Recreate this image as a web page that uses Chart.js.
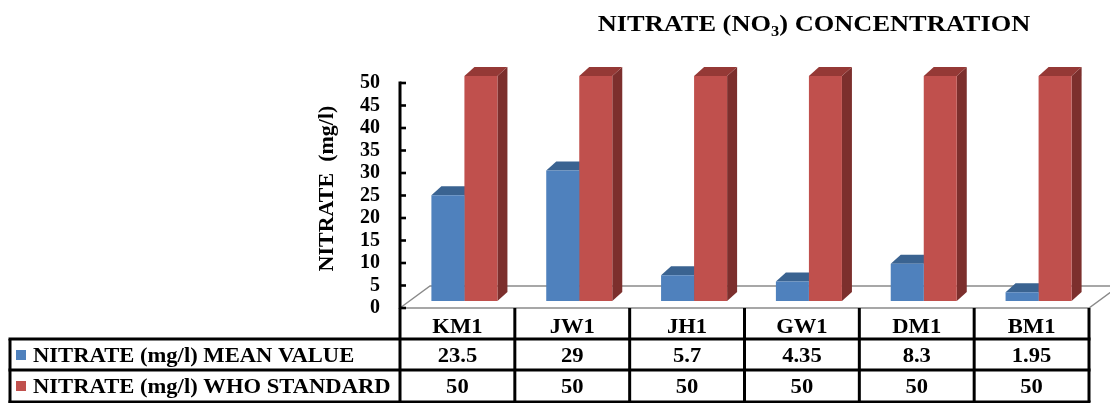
<!DOCTYPE html>
<html>
<head>
<meta charset="utf-8">
<script src="https://cdn.jsdelivr.net/npm/chart.js@4.4.1/dist/chart.umd.min.js"></script>
<style>
  html, body { margin: 0; padding: 0; background: #ffffff; }
  #wrap { width: 1110px; height: 403px; position: relative; }
</style>
</head>
<body>
<div id="wrap"><canvas id="chart" width="1110" height="403"></canvas></div>
<script>
// Sampling sites and nitrate readings (mg/l)
const sites = ['KM1', 'JW1', 'JH1', 'GW1', 'DM1', 'BM1'];
const meanValues = [23.5, 29, 5.7, 4.35, 8.3, 1.95];
const whoStandard = [50, 50, 50, 50, 50, 50];
const seriesNames = ['NITRATE (mg/l) MEAN VALUE', 'NITRATE (mg/l) WHO STANDARD'];
const yMin = 0;
const yMax = 50;
const yStep = 5;

const SERIF = "'Liberation Serif', 'Times New Roman', serif";
const INK = '#000000';

// Face colours for the pseudo-3D columns
const faces = [
  { front: '#4F81BD', top: '#3A6391', side: '#2E4F75' },
  { front: '#C0504D', top: '#953936', side: '#7C2F2D' }
];

// Offsets of the front plane (axis / floor edge) relative to the column plane
const FRONT_DX = -7, FRONT_DY = 7;
// Depth of the floor
const FLOOR_DX = 30, FLOOR_DY = -22;
// Depth of each column
const BAR_DX = 10, BAR_DY = -9;
// Table layout
const TABLE_LEFT = 10;
const ROW_H = 31;
const TABLE_FONT = 20;
const TEXT_SX = 1.13;

function poly(ctx, pts, fill) {
  ctx.beginPath();
  ctx.moveTo(pts[0][0], pts[0][1]);
  for (let i = 1; i < pts.length; i++) ctx.lineTo(pts[i][0], pts[i][1]);
  ctx.closePath();
  ctx.fillStyle = fill;
  ctx.fill();
}

function line(ctx, x1, y1, x2, y2, w, c) {
  ctx.beginPath();
  ctx.moveTo(x1, y1);
  ctx.lineTo(x2, y2);
  ctx.lineWidth = w;
  ctx.strokeStyle = c;
  ctx.stroke();
}

// Bold serif text, slightly widened
function text(ctx, str, x, y, size, align, sx) {
  ctx.save();
  ctx.font = 'bold ' + size + 'px ' + SERIF;
  ctx.fillStyle = INK;
  ctx.textBaseline = 'alphabetic';
  const w = ctx.measureText(str).width * sx;
  let start = x;
  if (align === 'center') start = x - w / 2;
  else if (align === 'right') start = x - w;
  ctx.translate(start, y);
  ctx.scale(sx, 1);
  ctx.textAlign = 'left';
  ctx.fillText(str, 0, 0);
  ctx.restore();
  return w;
}

const pseudo3d = {
  id: 'pseudo3d',
  beforeDatasetsDraw(chart) {
    const ctx = chart.ctx;
    const { left, right } = chart.chartArea;
    const y0 = chart.scales.y.getPixelForValue(0);
    const fl = left + FRONT_DX, fr = right + FRONT_DX, fy = y0 + FRONT_DY;
    // floor
    ctx.save();
    ctx.beginPath();
    ctx.moveTo(fl, fy);
    ctx.lineTo(fr, fy);
    ctx.lineTo(fr + FLOOR_DX, fy + FLOOR_DY);
    ctx.lineTo(fl + FLOOR_DX, fy + FLOOR_DY);
    ctx.closePath();
    ctx.fillStyle = '#ffffff';
    ctx.fill();
    ctx.lineWidth = 1.4;
    ctx.strokeStyle = '#8a8a8a';
    ctx.stroke();
    // tops and sides of the columns
    chart.data.datasets.forEach((ds, di) => {
      const meta = chart.getDatasetMeta(di);
      meta.data.forEach((bar) => {
        const p = bar.getProps(['x', 'y', 'base', 'width'], true);
        const l = p.x - p.width / 2, r = p.x + p.width / 2;
        poly(ctx, [[r, p.y], [r + BAR_DX, p.y + BAR_DY], [r + BAR_DX, p.base + BAR_DY], [r, p.base]], faces[di].side);
        poly(ctx, [[l, p.y], [l + BAR_DX, p.y + BAR_DY], [r + BAR_DX, p.y + BAR_DY], [r, p.y]], faces[di].top);
      });
    });
    ctx.restore();
  },
  afterDraw(chart) {
    const ctx = chart.ctx;
    const ys = chart.scales.y, xs = chart.scales.x;
    const { left, right } = chart.chartArea;
    const fl = left + FRONT_DX, fr = right + FRONT_DX;
    const fy = ys.getPixelForValue(0) + FRONT_DY;
    const topY = ys.getPixelForValue(yMax) + FRONT_DY;
    const catW = (right - left) / sites.length;
    const r1 = fy + ROW_H, r2 = r1 + ROW_H, r3 = r2 + ROW_H + 1;
    ctx.save();
    ctx.lineCap = 'butt';
    // value axis and its tick marks
    line(ctx, fl, topY - 1.5, fl, r3, 3, INK);
    ys.ticks.forEach((t) => {
      const ty = ys.getPixelForValue(t.value) + FRONT_DY;
      line(ctx, fl, ty, fl + 6, ty, 2.6, INK);
    });
    // data table grid
    for (let i = 1; i <= sites.length; i++) {
      const bx = fl + i * catW;
      line(ctx, bx, fy, bx, r3, 3, INK);
    }
    line(ctx, TABLE_LEFT, r1, TABLE_LEFT, r3 + 1.5, 3, INK);
    [r1, r2, r3].forEach((ry) => line(ctx, TABLE_LEFT - 1.5, ry, fr + 1.5, ry, 3, INK));
    // category names and values
    sites.forEach((s, i) => {
      const cx = xs.getPixelForValue(i) + FRONT_DX;
      text(ctx, s, cx, fy + 25, TABLE_FONT, 'center', TEXT_SX);
      text(ctx, String(meanValues[i]), cx, r1 + 23, TABLE_FONT, 'center', TEXT_SX);
      text(ctx, String(whoStandard[i]), cx, r2 + 23, TABLE_FONT, 'center', TEXT_SX);
    });
    // series keys
    [r1, r2].forEach((ry, k) => {
      ctx.fillStyle = faces[k].front;
      ctx.fillRect(TABLE_LEFT + 6, ry + 11, 10, 10);
      text(ctx, seriesNames[k], TABLE_LEFT + 23, ry + 23, TABLE_FONT, 'left', TEXT_SX);
    });
    // chart title with subscript
    const titleParts = [
      { s: 'NITRATE (NO', size: 24, dy: 0 },
      { s: '3', size: 15, dy: 5 },
      { s: ') CONCENTRATION', size: 24, dy: 0 }
    ];
    const tsx = 1.1;
    let total = 0;
    titleParts.forEach((p) => {
      ctx.font = 'bold ' + p.size + 'px ' + SERIF;
      p.w = ctx.measureText(p.s).width * tsx;
      total += p.w;
    });
    let tx = 814 - total / 2;
    titleParts.forEach((p) => {
      text(ctx, p.s, tx, 31 + p.dy, p.size, 'left', tsx);
      tx += p.w;
    });
    ctx.restore();
  }
};

new Chart(document.getElementById('chart'), {
  type: 'bar',
  data: {
    labels: sites,
    datasets: [
      { label: seriesNames[0], data: meanValues, backgroundColor: faces[0].front },
      { label: seriesNames[1], data: whoStandard, backgroundColor: faces[1].front }
    ]
  },
  options: {
    responsive: false,
    animation: false,
    events: [],
    layout: { padding: { left: 0, right: 14, top: 76, bottom: 102 } },
    datasets: { bar: { barPercentage: 1, categoryPercentage: 0.575, borderWidth: 0 } },
    plugins: { legend: { display: false }, tooltip: { enabled: false }, title: { display: false } },
    scales: {
      x: { display: false },
      y: {
        min: yMin,
        max: yMax,
        ticks: {
          stepSize: yStep,
          autoSkip: false,
          labelOffset: FRONT_DY,
          padding: 27,
          color: INK,
          font: { family: SERIF, size: 20, weight: 'bold' }
        },
        grid: { display: false, drawTicks: false },
        border: { display: false },
        title: {
          display: true,
          text: 'NITRATE  (mg/l)',
          color: INK,
          font: { family: SERIF, size: 22, weight: 'bold' },
          padding: { top: 314, bottom: 0 }
        },
        afterFit(scale) { scale.width = 407; }
      }
    }
  },
  plugins: [pseudo3d]
});
</script>
</body>
</html>
